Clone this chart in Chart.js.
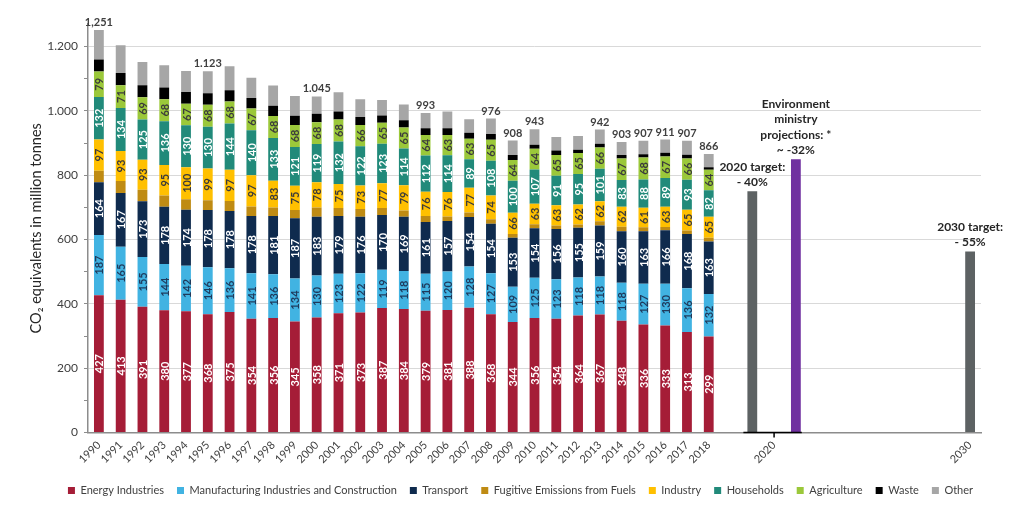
<!DOCTYPE html>
<html>
<head>
<meta charset="utf-8">
<title>Germany GHG emissions</title>
<script src="https://cdn.jsdelivr.net/npm/chart.js@4.4.1/dist/chart.umd.min.js"></script>
<style>
    html, body { margin: 0; padding: 0; background: #fff; }
    #wrap { width: 1036px; height: 515px; position: relative; }
</style>
</head>
<body>
<div id="wrap"><canvas id="emissionsChart"></canvas></div>
<script>
// Years shown as stacked bars
const years = ['1990', '1991', '1992', '1993', '1994', '1995', '1996', '1997', '1998', '1999',
    '2000', '2001', '2002', '2003', '2004', '2005', '2006', '2007', '2008', '2009',
    '2010', '2011', '2012', '2013', '2014', '2015', '2016', '2017', '2018'];

// Sector emissions, million tonnes CO2e
const energy = [427, 413, 391, 380, 377, 368, 375, 354, 356, 345, 358, 371, 373, 387, 384, 379, 381, 388, 368, 344, 356, 354, 364, 367, 348, 336, 333, 313, 299];
const manufacturing = [187, 165, 155, 144, 142, 146, 136, 141, 136, 134, 130, 123, 122, 119, 118, 115, 120, 128, 127, 109, 125, 123, 118, 118, 118, 127, 130, 136, 132];
const transport = [164, 167, 173, 178, 174, 178, 178, 178, 181, 187, 183, 179, 176, 170, 169, 161, 157, 154, 154, 153, 154, 156, 155, 159, 160, 163, 166, 168, 163];
const fugitive = [36, 37, 36, 35, 32, 30, 31, 30, 27, 26, 29, 25, 24, 22, 19, 18, 14, 14, 14, 11, 13, 11, 10, 13, 14, 12, 10, 11, 12];
const industry = [97, 93, 93, 95, 100, 99, 97, 97, 83, 75, 78, 75, 73, 77, 79, 76, 76, 77, 74, 66, 63, 63, 62, 62, 62, 61, 63, 65, 65];
const households = [132, 134, 125, 136, 130, 130, 144, 140, 133, 121, 119, 132, 122, 123, 114, 112, 114, 89, 108, 100, 107, 91, 95, 101, 83, 88, 89, 93, 82];
const agriculture = [79, 71, 69, 68, 67, 68, 68, 67, 68, 68, 68, 68, 66, 65, 65, 64, 63, 63, 65, 64, 64, 65, 65, 66, 67, 68, 67, 66, 64];
const waste = [38, 38, 38, 37, 37, 36, 35, 33, 32, 29, 26, 25, 25, 23, 23, 21, 21, 19, 18, 16, 13, 14, 10, 12, 11, 10, 12, 12, 8];
const other = [91, 86, 72, 69, 65, 68, 75, 63, 63, 61, 54, 60, 55, 48, 49, 47, 52, 42, 48, 45, 48, 42, 43, 44, 40, 42, 41, 43, 41];

// Totals printed above some bars (as written in the source)
const totalLabels = ['1,251', '', '', '', '', '1.123', '', '', '', '', '1.045', '', '', '', '', '993', '', '', '976', '908', '943', '', '', '942', '903', '907', '911', '907', '866'];

// Targets and projection
const target2020 = 750;
const projection2020 = 850;
const target2030 = 563;
const target2020Note = ['2020 target:', '- 40%'];
const projectionNote = ['Environment', 'ministry', 'projections: *', '~ -32%'];
const target2030Note = ['2030 target:', '- 55%'];

// x categories: the years, a gap, 2020 and 2030
const xLabels = years.concat(['', '', '2020', '', '', '', '', '', '', '', '', '2030']);
const SLOT_2020_TARGET = 30, SLOT_2020 = 31, SLOT_2020_PROJ = 32, SLOT_2030 = 40;

const seriesNames = ['Energy Industries', 'Manufacturing Industries and Construction', 'Transport',
    'Fugitive Emissions from Fuels', 'Industry', 'Households', 'Agriculture', 'Waste', 'Other'];
const seriesData = [energy, manufacturing, transport, fugitive, industry, households, agriculture, waste, other];
const seriesColors = ['#a51d37', '#41b3e2', '#0f2b4e', '#bf8b13', '#ffc000', '#218a7a', '#9bc83a', '#000000', '#a6a6a6'];
// colour of the number written in each segment (null = no number)
const segmentTextColors = ['#ffffff', '#1f3a5c', '#ffffff', null, '#3b3b3b', '#ffffff', '#3b3b3b', null, null];

const FONT = 'Lato, "Open Sans", sans-serif';

const pad = arr => arr.concat(Array(xLabels.length - arr.length).fill(null));
const slotData = (slots, values) => {
    const out = Array(xLabels.length).fill(null);
    slots.forEach((s, i) => { out[s] = values[i]; });
    return out;
};

const datasets = seriesNames.map((name, i) => ({
    label: name,
    data: pad(seriesData[i]),
    backgroundColor: seriesColors[i],
    barPercentage: 0.9,
    categoryPercentage: 0.5
}));
datasets.push({
    label: 'Targets',
    data: slotData([SLOT_2020_TARGET, SLOT_2030], [target2020, target2030]),
    backgroundColor: '#5d6263',
    barPercentage: 0.9,
    categoryPercentage: 0.5
});
datasets.push({
    label: 'Projection',
    data: slotData([SLOT_2020_PROJ], [projection2020]),
    backgroundColor: '#7030a0',
    barPercentage: 0.9,
    categoryPercentage: 0.5
});
const TARGET_IDX = seriesNames.length, PROJ_IDX = seriesNames.length + 1;

// Legend in the source sits a little right of the canvas centre
const legendShift = {
    id: 'legendShift',
    afterLayout(chart) {
        if (!chart.legend) return;
        chart.legend.left += 16;
        chart.legend.right += 16;
    }
};

// Draws segment numbers, totals and target notes
const barLabels = {
    id: 'barLabels',
    afterDatasetsDraw(chart) {
        const ctx = chart.ctx;
        ctx.save();

        // numbers inside segments, rotated
        ctx.font = 'bold 11px ' + FONT;
        ctx.textAlign = 'center';
        ctx.textBaseline = 'middle';
        seriesNames.forEach((name, i) => {
            if (!segmentTextColors[i]) return;
            ctx.fillStyle = segmentTextColors[i];
            chart.getDatasetMeta(i).data.forEach((bar, j) => {
                const v = seriesData[i][j];
                if (v == null) return;
                const p = bar.getProps(['x', 'y', 'base'], true);
                ctx.save();
                ctx.translate(p.x, (p.y + p.base) / 2);
                ctx.rotate(-Math.PI / 2);
                ctx.fillText(String(v), 0, 1);
                ctx.restore();
            });
        });

        // totals above bars
        ctx.font = 'bold 11px ' + FONT;
        ctx.fillStyle = '#404040';
        ctx.textBaseline = 'bottom';
        const topMeta = chart.getDatasetMeta(seriesNames.length - 1);
        totalLabels.forEach((t, j) => {
            if (!t) return;
            const bar = topMeta.data[j];
            ctx.fillText(t, bar.x, bar.y - 2);
        });

        // notes above target bars
        ctx.fillStyle = '#262626';
        ctx.font = 'bold 12px ' + FONT;
        const note = (bar, lines) => {
            lines.slice().reverse().forEach((line, k) => {
                ctx.fillText(line, bar.x, bar.y - 3 - k * 15.5);
            });
        };
        const tMeta = chart.getDatasetMeta(TARGET_IDX);
        const pMeta = chart.getDatasetMeta(PROJ_IDX);
        note(tMeta.data[SLOT_2020_TARGET], target2020Note);
        note(pMeta.data[SLOT_2020_PROJ], projectionNote);
        note(tMeta.data[SLOT_2030], target2030Note);

        // black axis segment under the 2020 group
        const y0 = chart.scales.y.getPixelForValue(0);
        const gb = tMeta.data[SLOT_2020_TARGET];
        const pb = pMeta.data[SLOT_2020_PROJ];
        ctx.strokeStyle = '#000000';
        ctx.lineWidth = 1.5;
        ctx.beginPath();
        ctx.moveTo(gb.x - gb.width / 2 - 4, y0);
        ctx.lineTo(pb.x + pb.width / 2 + 1, y0);
        const tx = chart.scales.x.getPixelForTick(SLOT_2020);
        ctx.moveTo(tx, y0);
        ctx.lineTo(tx, y0 + 5);
        ctx.stroke();

        ctx.restore();
    }
};

new Chart(document.getElementById('emissionsChart'), {
    type: 'bar',
    data: { labels: xLabels, datasets: datasets },
    options: {
        responsive: true,
        maintainAspectRatio: false,
        animation: false,
        layout: { padding: { left: 28, right: 55, top: 24, bottom: 9 } },
        plugins: {
            legend: {
                position: 'bottom',
                labels: {
                    filter: item => item.datasetIndex < seriesNames.length,
                    boxWidth: 7,
                    boxHeight: 7,
                    padding: 13,
                    color: '#404040',
                    font: { family: FONT, size: 11 }
                }
            },
            tooltip: { enabled: false }
        },
        scales: {
            x: {
                stacked: true,
                grid: { display: false, drawTicks: false },
                border: { color: '#8c8c8c', width: 1.5 },
                ticks: {
                    autoSkip: false,
                    minRotation: 45,
                    maxRotation: 45,
                    padding: 6,
                    color: '#404040',
                    font: { family: FONT, size: 11 }
                }
            },
            y: {
                stacked: true,
                min: 0,
                max: 1270,
                afterBuildTicks: scale => {
                    scale.ticks = scale.ticks.filter(t => t.value % 100 === 0);
                },
                afterFit: scale => { scale.width = 60; },
                grid: {
                    color: ctx => (ctx.tick && ctx.tick.value % 200 === 0 && ctx.tick.value > 0) ? '#d9d9d9' : 'rgba(0,0,0,0)',
                    tickColor: '#8c8c8c',
                    tickLength: 4
                },
                border: { color: '#8c8c8c', width: 1.5 },
                ticks: {
                    stepSize: 100,
                    padding: 6,
                    color: '#404040',
                    font: { family: FONT, size: 12 },
                    callback: v => v % 200 === 0 ? v.toLocaleString('de-DE') : ''
                },
                title: {
                    display: true,
                    text: 'CO₂ equivalents in million tonnes',
                    color: '#262626',
                    font: { family: FONT, size: 14.5 },
                    padding: { top: 0, bottom: 4 }
                }
            }
        }
    },
    plugins: [barLabels, legendShift]
});
</script>
</body>
</html>
